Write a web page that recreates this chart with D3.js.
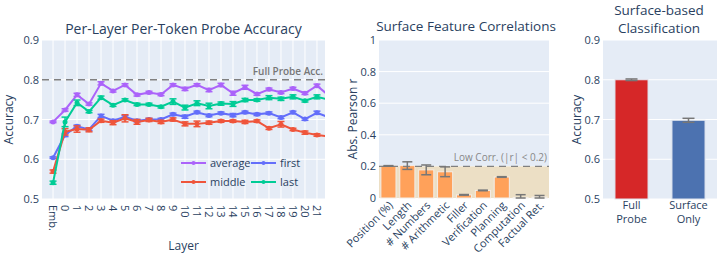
<!DOCTYPE html>
<html>
<head>
<meta charset="utf-8">
<script src="https://cdn.jsdelivr.net/npm/d3@7"></script>
<style>
  body { margin: 0; background: #fff; }
  svg { display: block; font-family: "Open Sans", sans-serif; }
</style>
</head>
<body>
<svg id="chart" width="723" height="256"></svg>
<script>
// ---- data ----
var layers = ["Emb.", "0", "1", "2", "3", "4", "5", "6", "7", "8", "9", "10",
  "11", "12", "13", "14", "15", "16", "17", "18", "19", "20", "21", "22"];

var avgAcc = [0.694, 0.724, 0.762, 0.739, 0.791, 0.772, 0.787, 0.762, 0.768, 0.763, 0.787, 0.777,
  0.787, 0.774, 0.787, 0.766, 0.781, 0.764, 0.776, 0.768, 0.778, 0.766, 0.785, 0.760];
var avgErr = [0.002, 0.003, 0.004, 0.003, 0.004, 0.003, 0.003, 0.003, 0.003, 0.003, 0.003, 0.004,
  0.003, 0.004, 0.004, 0.005, 0.005, 0.003, 0.003, 0.003, 0.003, 0.003, 0.004, 0.003];

var firstAcc = [0.604, 0.661, 0.683, 0.675, 0.709, 0.697, 0.707, 0.697, 0.700, 0.700, 0.713, 0.707,
  0.718, 0.710, 0.716, 0.711, 0.718, 0.713, 0.716, 0.705, 0.718, 0.701, 0.717, 0.705];
var firstErr = [0.002, 0.004, 0.003, 0.003, 0.004, 0.003, 0.003, 0.003, 0.003, 0.003, 0.003, 0.004,
  0.003, 0.003, 0.003, 0.004, 0.003, 0.003, 0.003, 0.003, 0.003, 0.003, 0.004, 0.003];

var middleAcc = [0.569, 0.669, 0.676, 0.674, 0.697, 0.692, 0.703, 0.694, 0.699, 0.694, 0.700, 0.689,
  0.689, 0.692, 0.696, 0.696, 0.694, 0.696, 0.678, 0.688, 0.675, 0.667, 0.661, 0.657];
var middleErr = [0.004, 0.008, 0.008, 0.005, 0.004, 0.005, 0.009, 0.006, 0.004, 0.004, 0.004, 0.005,
  0.007, 0.004, 0.003, 0.003, 0.004, 0.003, 0.003, 0.007, 0.003, 0.004, 0.003, 0.003];

var lastAcc = [0.541, 0.694, 0.742, 0.720, 0.755, 0.736, 0.749, 0.738, 0.738, 0.732, 0.745, 0.730,
  0.741, 0.734, 0.740, 0.739, 0.749, 0.749, 0.755, 0.752, 0.757, 0.747, 0.757, 0.750];
var lastErr = [0.004, 0.012, 0.007, 0.003, 0.004, 0.003, 0.003, 0.003, 0.003, 0.003, 0.007, 0.006,
  0.006, 0.007, 0.004, 0.006, 0.004, 0.003, 0.005, 0.004, 0.005, 0.003, 0.005, 0.004];

var fullProbeAcc = 0.8;

var features = ["Position (%)", "Length", "# Numbers", "# Arithmetic", "Filler",
  "Verification", "Planning", "Computation", "Factual Ret."];
var corrValues = [0.203, 0.205, 0.178, 0.166, 0.020, 0.048, 0.133, 0.004, 0.006];
var corrErr = [0.002, 0.024, 0.031, 0.031, 0.002, 0.002, 0.002, 0.017, 0.010];
var lowCorr = 0.2;

var methods = [["Full", "Probe"], ["Surface", "Only"]];
var methodAcc = [0.800, 0.698];
var methodErr = [0.002, 0.005];
var methodColors = ["#d62728", "#4c72b0"];

// ---- style ----
var textCol = "#2a3f5f", bg = "#E5ECF6", gridCol = "#ffffff";
var seriesCols = { average: "#ab63fa", first: "#636efa", middle: "#ef553b", last: "#00cc96" };

var svg = d3.select("#chart");
var defs = svg.append("defs");

function title(x, y, lines, size, gap) {
  lines.forEach(function(t, i) {
    svg.append("text").attr("x", x).attr("y", y + i * (gap || 17))
      .attr("text-anchor", "middle").attr("fill", textCol)
      .style("font-size", (size || 14) + "px").text(t);
  });
}
function yTitle(x, y, t) {
  svg.append("text").attr("transform", "translate(" + x + "," + y + ") rotate(-90)")
    .attr("text-anchor", "middle").attr("fill", textCol)
    .style("font-size", "12px").text(t);
}
function yAxis(g, y, ticks, left, right, fmt) {
  ticks.forEach(function(v) {
    g.append("line").attr("x1", left).attr("x2", right)
      .attr("y1", y(v)).attr("y2", y(v)).attr("stroke", gridCol).attr("stroke-width", 1);
    g.append("text").attr("x", left - 3).attr("y", y(v) + 4)
      .attr("text-anchor", "end").attr("fill", textCol)
      .style("font-size", "11px").text(fmt(v));
  });
}

// ================= panel 1 =================
(function() {
  var L = 42, R = 325, T = 40, B = 199;
  var x = d3.scaleLinear().domain([-0.92, 22.67]).range([L, R]);
  var y = d3.scaleLinear().domain([0.5, 0.9]).range([B, T]);

  svg.append("rect").attr("x", L).attr("y", T).attr("width", R - L).attr("height", B - T).attr("fill", bg);
  defs.append("clipPath").attr("id", "clip1").append("rect")
    .attr("x", L).attr("y", T).attr("width", R - L).attr("height", B - T);

  var g = svg.append("g");
  layers.forEach(function(l, i) {
    if (x(i) > R) return;
    g.append("line").attr("x1", x(i)).attr("x2", x(i)).attr("y1", T).attr("y2", B)
      .attr("stroke", gridCol).attr("stroke-width", 1);
    svg.append("text").attr("transform", "translate(" + (x(i) - 4) + "," + (B + 6) + ") rotate(90)")
      .attr("text-anchor", "start").attr("fill", textCol)
      .style("font-size", "11px").text(l);
  });
  yAxis(g, y, [0.5, 0.6, 0.7, 0.8, 0.9], L, R, d3.format(".1f"));

  // full probe reference
  g.append("line").attr("x1", L).attr("x2", R).attr("y1", y(fullProbeAcc)).attr("y2", y(fullProbeAcc))
    .attr("stroke", "#808080").attr("stroke-width", 1.3).attr("stroke-dasharray", "7,5");
  svg.append("text").attr("x", R - 2).attr("y", y(fullProbeAcc) - 5)
    .attr("text-anchor", "end").attr("fill", "#777").style("font-size", "10px")
    .style("font-weight", "600").text("Full Probe Acc.");

  var series = [
    { name: "average", vals: avgAcc, err: avgErr },
    { name: "first", vals: firstAcc, err: firstErr },
    { name: "middle", vals: middleAcc, err: middleErr },
    { name: "last", vals: lastAcc, err: lastErr }
  ];
  var plot = svg.append("g").attr("clip-path", "url(#clip1)");
  var line = d3.line().x(function(d, i) { return x(i); }).y(function(d) { return y(d); });
  series.forEach(function(s) {
    var c = seriesCols[s.name];
    var sg = plot.append("g");
    sg.append("path").datum(s.vals).attr("d", line).attr("fill", "none")
      .attr("stroke", c).attr("stroke-width", 2);
    s.vals.forEach(function(v, i) {
      var cx = x(i), lo = y(v - s.err[i]), hi = y(v + s.err[i]);
      sg.append("line").attr("x1", cx).attr("x2", cx).attr("y1", lo).attr("y2", hi)
        .attr("stroke", c).attr("stroke-width", 1.5);
      sg.append("line").attr("x1", cx - 3.5).attr("x2", cx + 3.5).attr("y1", lo).attr("y2", lo)
        .attr("stroke", c).attr("stroke-width", 1.5);
      sg.append("line").attr("x1", cx - 3.5).attr("x2", cx + 3.5).attr("y1", hi).attr("y2", hi)
        .attr("stroke", c).attr("stroke-width", 1.5);
      sg.append("circle").attr("cx", cx).attr("cy", y(v)).attr("r", 2.5).attr("fill", c);
    });
  });

  // legend
  var leg = [["average", 181, 163], ["first", 251, 163], ["middle", 181, 182], ["last", 251, 182]];
  leg.forEach(function(d) {
    var c = seriesCols[d[0]];
    svg.append("line").attr("x1", d[1]).attr("x2", d[1] + 25).attr("y1", d[2]).attr("y2", d[2])
      .attr("stroke", c).attr("stroke-width", 2);
    svg.append("circle").attr("cx", d[1] + 12.5).attr("cy", d[2]).attr("r", 2).attr("fill", c);
    svg.append("text").attr("x", d[1] + 29).attr("y", d[2] + 4).attr("fill", textCol)
      .style("font-size", "11px").text(d[0]);
  });

  title((L + R) / 2, 34, ["Per-Layer Per-Token Probe Accuracy"]);
  yTitle(13, (T + B) / 2, "Accuracy");
  svg.append("text").attr("x", (L + R) / 2).attr("y", 250).attr("text-anchor", "middle")
    .attr("fill", textCol).style("font-size", "12px").text("Layer");
})();

// ================= panel 2 =================
(function() {
  var L = 379, R = 549, T = 40, B = 198;
  var x = d3.scaleBand().domain(features).range([L, R]).paddingInner(0.2).paddingOuter(0.1);
  var y = d3.scaleLinear().domain([0, 1]).range([B, T]);

  svg.append("rect").attr("x", L).attr("y", T).attr("width", R - L).attr("height", B - T).attr("fill", bg);
  var g = svg.append("g");
  yAxis(g, y, [0, 0.2, 0.4, 0.6, 0.8, 1], L, R, function(v) { return v === 0 || v === 1 ? String(v) : d3.format(".1f")(v); });

  g.append("rect").attr("x", L).attr("y", y(lowCorr)).attr("width", R - L)
    .attr("height", y(0) - y(lowCorr)).attr("fill", "#ecdfc5");

  features.forEach(function(f, i) {
    var v = corrValues[i];
    g.append("rect").attr("x", x(f)).attr("y", y(v)).attr("width", x.bandwidth())
      .attr("height", Math.max(0, y(0) - y(v))).attr("fill", "#ffa15a")
      .attr("stroke", "#f3eee8").attr("stroke-width", 1);
  });
  g.append("line").attr("x1", L).attr("x2", R).attr("y1", y(lowCorr)).attr("y2", y(lowCorr))
    .attr("stroke", "#808080").attr("stroke-width", 1.3).attr("stroke-dasharray", "7,5");
  features.forEach(function(f, i) {
    var cx = x(f) + x.bandwidth() / 2, lo = y(Math.max(0, corrValues[i] - corrErr[i])), hi = y(corrValues[i] + corrErr[i]);
    g.append("line").attr("x1", cx).attr("x2", cx).attr("y1", lo).attr("y2", hi)
      .attr("stroke", "#777").attr("stroke-width", 1.5);
    [lo, hi].forEach(function(yy) {
      g.append("line").attr("x1", cx - 5).attr("x2", cx + 5).attr("y1", yy).attr("y2", yy)
        .attr("stroke", "#777").attr("stroke-width", 1.5);
    });
    svg.append("text")
      .attr("transform", "translate(" + (cx + 5) + "," + (B + 8) + ") rotate(-45)")
      .attr("text-anchor", "end").attr("fill", textCol)
      .style("font-size", "11px").text(f);
  });
  svg.append("text").attr("x", R - 2).attr("y", y(lowCorr) - 5)
    .attr("text-anchor", "end").attr("fill", "#888").style("font-size", "10px")
    .text("Low Corr. (|r| < 0.2)");

  title((L + R) / 2 + 2, 31, ["Surface Feature Correlations"], 13.5);
  yTitle(357, (T + B) / 2, "Abs. Pearson r");
})();

// ================= panel 3 =================
(function() {
  var L = 603, R = 717, T = 40, B = 199;
  var x = d3.scaleBand().domain([0, 1]).range([L, R]).paddingInner(0.42).paddingOuter(0.21);
  var y = d3.scaleLinear().domain([0.5, 0.9]).range([B, T]);

  svg.append("rect").attr("x", L).attr("y", T).attr("width", R - L).attr("height", B - T).attr("fill", bg);
  var g = svg.append("g");
  yAxis(g, y, [0.5, 0.6, 0.7, 0.8, 0.9], L, R, d3.format(".1f"));

  methodAcc.forEach(function(v, i) {
    g.append("rect").attr("x", x(i)).attr("y", y(v)).attr("width", x.bandwidth())
      .attr("height", y(0.5) - y(v)).attr("fill", methodColors[i])
      .attr("stroke", "#dfe4ee").attr("stroke-width", 1);
    var cx = x(i) + x.bandwidth() / 2, lo = y(v - methodErr[i]), hi = y(v + methodErr[i]);
    g.append("line").attr("x1", cx).attr("x2", cx).attr("y1", lo).attr("y2", hi)
      .attr("stroke", "#777").attr("stroke-width", 1.5);
    [lo, hi].forEach(function(yy) {
      g.append("line").attr("x1", cx - 6).attr("x2", cx + 6).attr("y1", yy).attr("y2", yy)
        .attr("stroke", "#777").attr("stroke-width", 1.5);
    });
    methods[i].forEach(function(t, k) {
      svg.append("text").attr("x", cx).attr("y", B + 10 + k * 14).attr("text-anchor", "middle")
        .attr("fill", textCol).style("font-size", "11px").text(t);
    });
  });

  title((L + R) / 2 - 1, 15, ["Surface-based", "Classification"], 13.5, 18);
  yTitle(581, (T + B) / 2, "Accuracy");
})();
</script>
</body>
</html>
